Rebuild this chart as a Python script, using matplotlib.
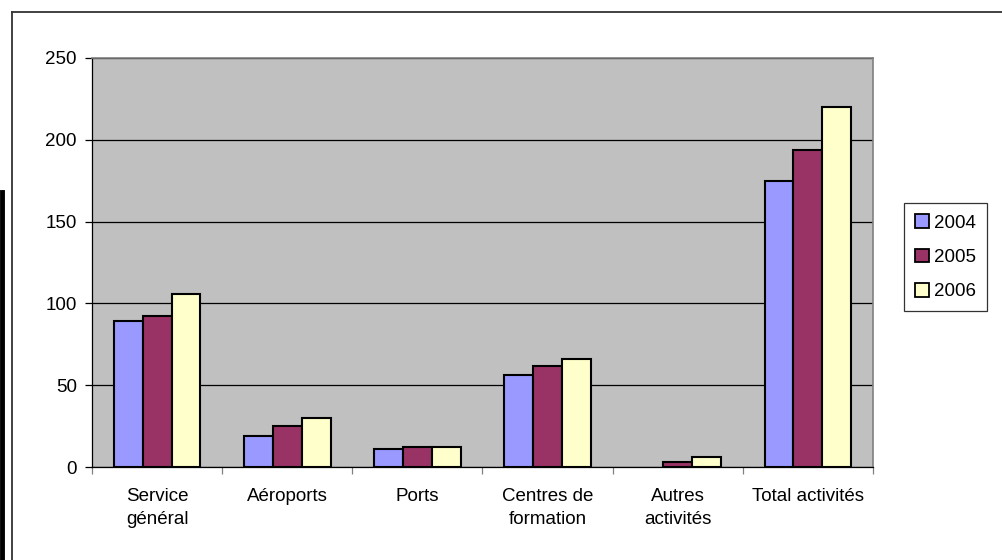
import matplotlib
matplotlib.use("Agg")
import matplotlib.pyplot as plt
import numpy as np
from matplotlib.lines import Line2D

plt.rcParams['font.family'] = ['Liberation Sans', 'DejaVu Sans']

categories = ["Service\ngénéral", "Aéroports", "Ports", "Centres de\nformation", "Autres\nactivités", "Total activités"]
series_names = ["2004", "2005", "2006"]
v2004 = [89, 19, 11, 56, 0, 175]
v2005 = [92, 25, 12, 62, 3, 194]
v2006 = [106, 30, 12, 66, 6, 220]
colors = ["#9999FF", "#993366", "#FFFFCC"]
yticks = [0, 50, 100, 150, 200, 250]

W, H = 1003, 560
FS = 13.5
fig = plt.figure(figsize=(W / 100, H / 100), dpi=100)
ax = fig.add_axes([92 / W, 1 - 467 / H, (873 - 92) / W, (467 - 58) / H])
ax.set_facecolor("#C0C0C0")

x = np.arange(len(categories))
bw = 1 / 4.5
for i, (vals, name, c) in enumerate(zip([v2004, v2005, v2006], series_names, colors)):
    bars = ax.bar(x + (i - 1) * bw, vals, width=bw, color=c, edgecolor="black", linewidth=1.5,
                  label=name, zorder=3)
    for b, v in zip(bars, vals):
        if v == 0:
            b.set_linewidth(0)

ax.set_xlim(-0.5, len(categories) - 0.5)
ax.set_ylim(0, 250)
ax.set_yticks(yticks)
ax.yaxis.grid(True, color="black", linewidth=0.9, zorder=1)
ax.set_axisbelow(True)
ax.tick_params(axis="y", length=5, width=0.9, labelsize=FS, pad=6, color="black")

ax.set_xticks(x)
ax.set_xticklabels(categories, fontsize=FS, linespacing=1.45)
ax.tick_params(axis="x", length=0, pad=15)
ax.set_xticks(np.arange(len(categories) + 1) - 0.5, minor=True)
ax.tick_params(axis="x", which="minor", length=5, width=0.9, color="#808080")

for s in ["top", "right"]:
    ax.spines[s].set_color("#808080")
    ax.spines[s].set_linewidth(1.2)
ax.spines["left"].set_color("black")
ax.spines["bottom"].set_color("black")
ax.spines["left"].set_linewidth(0.9)
ax.spines["bottom"].set_linewidth(0.9)

leg = fig.legend(loc="upper left", bbox_to_anchor=(904 / W, 1 - 203 / H), fontsize=FS,
                 frameon=True, fancybox=False, edgecolor="black", handlelength=0.75,
                 handleheight=0.75, handletextpad=0.25, labelspacing=0.9, borderpad=0.6,
                 borderaxespad=0)
leg.get_frame().set_linewidth(0.9)
for p in leg.get_patches():
    p.set_linewidth(1.3)

# outer chart border (top and left only visible)
fig.add_artist(Line2D([12 / W, 1.0], [1 - 12 / H, 1 - 12 / H], color="#333333", linewidth=1.3))
fig.add_artist(Line2D([12 / W, 12 / W], [1 - 12 / H, 0], color="#333333", linewidth=1.3))
fig.add_artist(Line2D([2.5 / W, 2.5 / W], [1 - 192 / H, 0], color="black", linewidth=3.5))

fig.savefig("out.png", dpi=100)
